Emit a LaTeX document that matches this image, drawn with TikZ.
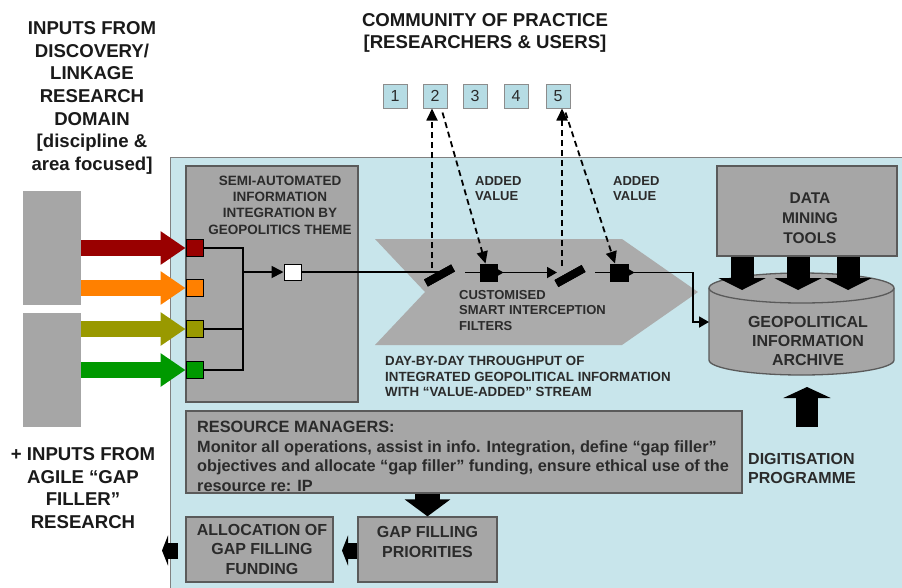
\documentclass[tikz,border=0pt]{standalone}
\usepackage{fontspec}
\setmainfont{Liberation Sans}
\usetikzlibrary{arrows.meta}
\definecolor{bg}{HTML}{C8E5EB}
\definecolor{boxgray}{HTML}{A6A6A6}
\definecolor{chev}{HTML}{ABABAB}
\definecolor{cpbox}{HTML}{B6DCE4}
\definecolor{ink}{HTML}{1A1A1A}
\definecolor{ink2}{HTML}{2B2B2B}
\definecolor{edge}{HTML}{5A5A5A}
\definecolor{dred}{HTML}{990000}
\definecolor{orng}{HTML}{FF8000}
\definecolor{olv}{HTML}{999900}
\definecolor{grn}{HTML}{009900}
\begin{document}
\begin{tikzpicture}[x=1pt,y=-1pt,
  ttl/.style={font=\bfseries\fontsize{18.6}{22.7}\selectfont, text=ink, align=center, inner sep=0pt},
  gbox/.style={draw=edge, fill=boxgray, line width=1.3pt, inner sep=0pt},
  btxt/.style={font=\bfseries\fontsize{16}{19.5}\selectfont, text=ink2, inner sep=0pt},
  stxt/.style={font=\bfseries\fontsize{13}{15.5}\selectfont, text=ink2, inner sep=0pt},
  flow/.style={line width=1.8pt, draw=black},
  dsh/.style={line width=1.8pt, dash pattern=on 6pt off 4pt},
  cpb/.style={draw=black!45, fill=cpbox, line width=1pt, minimum width=24pt, minimum height=24pt, inner sep=0pt, font=\fontsize{16}{16}\selectfont, text=ink2},
  sqb/.style={draw=black, line width=1pt, minimum width=17pt, minimum height=17pt, inner sep=0pt},
  inarrow/.style={line width=16pt, -{Triangle[width=32pt,length=25pt]}},
  blk/.style={draw=black},
]
\useasboundingbox (0,0) rectangle (902,587);
\fill[white] (0,0) rectangle (902,587);

% background region
\draw[fill=bg, draw=black!50, line width=1pt] (170,157) rectangle (904,590);

% titles
\node[ttl] (tl) at (92,98) {INPUTS FROM\\DISCOVERY/\\LINKAGE\\RESEARCH\\DOMAIN\\{}[discipline \&\\area focused]};
\node[ttl] (bl) at (83,488) {+ INPUTS FROM\\AGILE “GAP\\FILLER”\\RESEARCH};
\node[ttl] (cop) at (485,33) {COMMUNITY OF PRACTICE\\{}[RESEARCHERS \& USERS]};

% input blocks
\node[fill=boxgray, minimum width=58pt, minimum height=114pt, inner sep=0pt] (in1) at (52,248) {};
\node[fill=boxgray, minimum width=58pt, minimum height=114pt, inner sep=0pt] (in2) at (52,370) {};

% semi box
\node[gbox, minimum width=172pt, minimum height=236pt] (semi) at (272,284) {};
\node[font=\bfseries\fontsize{13.5}{16.3}\selectfont, text=ink2, align=center, inner sep=0pt] (semit) at (280,205) {SEMI-AUTOMATED\\INFORMATION\\INTEGRATION BY\\GEOPOLITICS THEME};

% chevron
\fill[chev] (375,239) -- (622,239) -- (698,292) -- (622,345) -- (375,345) -- (425,292) -- cycle;

% small squares
\node[sqb, fill=dred] (sq1) at (194.5,248) {};
\node[sqb, fill=orng] (sq2) at (194.5,288) {};
\node[sqb, fill=olv] (sq3) at (194.5,329) {};
\node[sqb, fill=grn] (sq4) at (194.5,370) {};

% coloured input arrows
\draw[inarrow, dred] (in1.east |- sq1) -- (sq1.west);
\draw[inarrow, orng] (in1.east |- sq2) -- (sq2.west);
\draw[inarrow, olv] (in2.east |- sq3) -- (sq3.west);
\draw[inarrow, grn] (in2.east |- sq4) -- (sq4.west);

% merge
\node[sqb, fill=white, minimum width=17pt, minimum height=16pt] (ws) at (292.5,272) {};
\coordinate (mj) at (243,272);
\draw[flow] (sq1.east) -- (243,248) -- (243,370) -- (sq4.east);
\draw[flow] (sq3.east) -- (243,329);
\draw[flow, -{Triangle[width=12pt,length=12pt]}] (mj) -- (ws.west);

% filters and stream squares
\node[fill=black, minimum width=31pt, minimum height=8pt, inner sep=0pt, rotate=29] (f1) at (439.5,275.5) {};
\node[fill=black, minimum width=31pt, minimum height=8pt, inner sep=0pt, rotate=29] (f2) at (570,276) {};
\node[sqb, fill=black] (bs1) at (488.5,272.5) {};
\node[sqb, fill=black, minimum width=18pt] (bs2) at (619,272.5) {};
\coordinate (o1) at (465,272.5);
\coordinate (o2) at (595,272.5);
\coordinate (turn) at (693,272.5);
\coordinate (cylin) at (709,322);

% cylinder
\fill[boxgray] (709,288) -- (709,360) arc[start angle=180, end angle=0, x radius=92.5, y radius=15] -- (894,288) arc[start angle=0, end angle=-180, x radius=92.5, y radius=15] -- cycle;
\draw[edge, line width=1.3pt] (709,288) -- (709,360) arc[start angle=180, end angle=0, x radius=92.5, y radius=15] -- (894,288);
\draw[edge, line width=1.3pt] (801.5,288) ellipse[x radius=92.5, y radius=15];
\node[font=\bfseries\fontsize{16}{19}\selectfont, text=ink2, align=center, inner sep=0pt] (arch) at (808,341) {GEOPOLITICAL\\INFORMATION\\ARCHIVE};

% flow lines (under filters)
\draw[flow] (ws.east) -- (ws.east -| f1.center);
\draw[flow] (o1) -- (bs1.west);
\draw[flow, -{Triangle[width=11pt,length=10pt]}] (bs1.east) -- (o2 -| 557,0);
\draw[flow] (o2) -- (bs2.west);
\draw[flow, -{Triangle[width=11pt,length=10pt]}] (bs2.east) -- (turn) -- (693,322) -- (cylin);
\fill (bs1.east) -- ++(0,-3.5) -- ++(6,3.5) -- ++(-6,3.5) -- cycle;
\fill (bs2.east) -- ++(0,-3.5) -- ++(6,3.5) -- ++(-6,3.5) -- cycle;
% redraw filters on top
\node[fill=black, minimum width=31pt, minimum height=8pt, inner sep=0pt, rotate=29] at (f1) {};
\node[fill=black, minimum width=31pt, minimum height=8pt, inner sep=0pt, rotate=29] at (f2) {};

% community boxes
\node[cpb] (cp1) at (395,96) {1};
\node[cpb] (cp2) at (435,96) {2};
\node[cpb] (cp3) at (475,96) {3};
\node[cpb] (cp4) at (516,96) {4};
\node[cpb] (cp5) at (558,96) {5};

% dashed connections
\coordinate (d1) at (432,268);
\coordinate (d2) at (562,266);
\draw[dsh, -{Triangle[width=11pt,length=12pt]}] (d1) -- (d1 |- cp2.south);
\draw[dsh, -{Triangle[width=11pt,length=12pt]}] (d2) -- (d2 |- cp5.south);
\draw[dsh, -{Triangle[width=11pt,length=12pt]}] ([shift={(-5,4)}]cp2.south east) -- ([xshift=-3]bs1.north);
\draw[dsh, -{Triangle[width=11pt,length=12pt]}] ([shift={(-5,4)}]cp5.south east) -- ([xshift=-4]bs2.north);

% labels in stream
\node[stxt, align=left, anchor=west] (av1) at (475,188.5) {ADDED\\VALUE};
\node[stxt, align=left, anchor=west] (av2) at (613,188.5) {ADDED\\VALUE};
\node[stxt, align=left, anchor=west] (csf) at (459,310.5) {CUSTOMISED\\SMART INTERCEPTION\\FILTERS};
\node[font=\bfseries\fontsize{13.3}{15.5}\selectfont, text=ink2, inner sep=0pt, align=left, anchor=west] (day) at (385,376.5) {DAY-BY-DAY THROUGHPUT OF\\INTEGRATED GEOPOLITICAL INFORMATION\\WITH “VALUE-ADDED” STREAM};

% data mining
\node[gbox, minimum width=180pt, minimum height=90pt] (dm) at (807,211) {};
\node[font=\bfseries\fontsize{15.5}{20}\selectfont, text=ink2, align=center, inner sep=0pt] (dmt) at (810,218) {DATA\\MINING\\TOOLS};
\coordinate (t1) at (742,290);
\coordinate (t2) at (798,290);
\coordinate (t3) at (848,290);
\draw[blk, line width=23pt, -{Triangle[width=47pt,length=12pt]}] (dm.south -| t1) -- (t1);
\draw[blk, line width=23pt, -{Triangle[width=47pt,length=12pt]}] (dm.south -| t2) -- (t2);
\draw[blk, line width=23pt, -{Triangle[width=47pt,length=12pt]}] (dm.south -| t3) -- (t3);

% digitisation
\coordinate (dg0) at (807,427);
\coordinate (dg1) at (807,387);
\draw[blk, line width=22pt, -{Triangle[width=47pt,length=11pt]}] (dg0) -- (dg1);
\node[btxt, align=left, anchor=west] (dig) at (748,468.5) {DIGITISATION\\PROGRAMME};

% resource managers
\node[gbox, minimum width=556pt, minimum height=82pt] (rm) at (464,452) {};
\node[btxt, align=left, anchor=west, font=\bfseries\fontsize{16.3}{19.7}\selectfont] (rmt) at (197,456.5) {RESOURCE MANAGERS:\\Monitor all operations, assist in info. Integration, define “gap filler”\\objectives and allocate “gap filler” funding, ensure ethical use of the\\resource re: IP};

% bottom boxes
\node[gbox, minimum width=147pt, minimum height=65pt] (al) at (259.5,549.5) {};
\node[btxt, align=center] (alt) at (262,549) {ALLOCATION OF\\GAP FILLING\\FUNDING};
\node[gbox, minimum width=139pt, minimum height=65pt] (pr) at (427.5,549.5) {};
\node[btxt, align=center, font=\bfseries\fontsize{16}{20}\selectfont] (prt) at (427.5,542) {GAP FILLING\\PRIORITIES};

\draw[blk, line width=25pt, -{Triangle[width=45pt,length=17pt]}] (rm.south -| pr.north) -- (pr.north);
\coordinate (a1) at (342,550.5);
\draw[blk, line width=16pt, -{Triangle[width=30pt,length=6pt]}] (pr.west |- a1) -- (a1);
\coordinate (a2s) at (178,550.5);
\coordinate (a2) at (162,550.5);
\draw[blk, line width=16pt, -{Triangle[width=30pt,length=6pt]}] (a2s) -- (a2);
\end{tikzpicture}
\end{document}
